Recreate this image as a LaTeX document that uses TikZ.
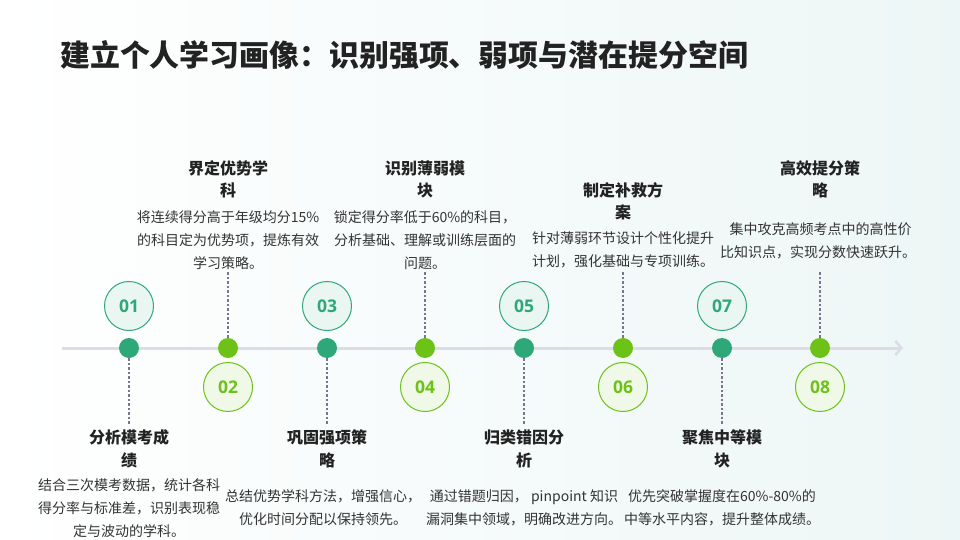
\documentclass[tikz,border=0pt]{standalone}
\usepackage{fontspec}
\setmainfont{Noto Sans CJK SC}
\newfontfamily\numfont{Open Sans}
\usetikzlibrary{arrows.meta,positioning}

\definecolor{darkgrn}{HTML}{2EA878}
\definecolor{litgrn}{HTML}{6CC216}
\definecolor{axisgray}{HTML}{DCDCE6}
\definecolor{linkgray}{HTML}{77768F}
\definecolor{headgray}{HTML}{222222}
\definecolor{descgray}{HTML}{333333}

\tikzset{
  ttl/.style={align=center, inner sep=0pt, text=headgray,
    font=\fontsize{16}{22.5}\selectfont\bfseries},
  desc/.style={align=center, inner sep=0pt, text=descgray,
    font=\fontsize{14}{22.8}\selectfont},
  oddnum/.style={circle, draw=darkgrn, fill=darkgrn!10, line width=1pt,
    minimum size=49pt, inner sep=0pt, text=darkgrn,
    font=\numfont\bfseries\fontsize{17.5}{17.5}\selectfont},
  evennum/.style={circle, draw=litgrn, fill=litgrn!10, line width=1pt,
    minimum size=49pt, inner sep=0pt, text=litgrn,
    font=\numfont\bfseries\fontsize{17.5}{17.5}\selectfont},
  odddot/.style={circle, fill=darkgrn, minimum size=20pt, inner sep=0pt},
  evendot/.style={circle, fill=litgrn, minimum size=20pt, inner sep=0pt},
  link/.style={linkgray, line width=1.5pt, dash pattern=on 2.5pt off 2pt}
}

\begin{document}
\begin{tikzpicture}[x=1pt,y=-1pt]
    % background
    \shade[left color=white, right color=teal!7] (0,0) rectangle (960,540);
    \useasboundingbox (0,0) rectangle (960,540);

    % heading
    \node[anchor=west, inner sep=0pt, text=headgray,
      font=\fontsize{29.9}{32}\selectfont\bfseries] (heading) at (60,55)
      {建立个人学习画像：识别强项、弱项与潜在提分空间};

    % time axis
    \coordinate (axstart) at (62,348);
    \coordinate (axend) at (903,348);
    \draw[axisgray, line width=3pt, -{Straight Barb[length=6pt,width=14pt,line width=2.5pt]}] (axstart) -- (axend);

    % link ends
    \coordinate (e1) at (129,424);
    \coordinate (e2) at (228,272);
    \coordinate (e3) at (327,424);
    \coordinate (e4) at (425,272);
    \coordinate (e5) at (524,424);
    \coordinate (e6) at (623,272);
    \coordinate (e7) at (722,424);
    \coordinate (e8) at (820,272);

    % dots on the axis
    \node[odddot]  (d1) at (129,348) {};
    \node[evendot] (d2) at (228,348) {};
    \node[odddot]  (d3) at (327,348) {};
    \node[evendot] (d4) at (425,348) {};
    \node[odddot]  (d5) at (524,348) {};
    \node[evendot] (d6) at (623,348) {};
    \node[odddot]  (d7) at (722,348) {};
    \node[evendot] (d8) at (820,348) {};

    % dashed links
    \draw[link] (d1.south) -- (e1);
    \draw[link] (d2.north) -- (e2);
    \draw[link] (d3.south) -- (e3);
    \draw[link] (d4.north) -- (e4);
    \draw[link] (d5.south) -- (e5);
    \draw[link] (d6.north) -- (e6);
    \draw[link] (d7.south) -- (e7);
    \draw[link] (d8.north) -- (e8);

    % step numbers
    \node[oddnum]  (c1) at (129,306) {01};
    \node[evennum] (c2) at (228,387) {02};
    \node[oddnum]  (c3) at (327,306) {03};
    \node[evennum] (c4) at (425,387) {04};
    \node[oddnum]  (c5) at (524,306) {05};
    \node[evennum] (c6) at (623,387) {06};
    \node[oddnum]  (c7) at (722,306) {07};
    \node[evennum] (c8) at (820,387) {08};

    % titles
    \node[ttl] (t1) at (129,449) {分析模考成\\绩};
    \node[ttl] (t2) at (228,179.5) {界定优势学\\科};
    \node[ttl] (t3) at (327,449) {巩固强项策\\略};
    \node[ttl] (t4) at (425,179.5) {识别薄弱模\\块};
    \node[ttl] (t5) at (524,449) {归类错因分\\析};
    \node[ttl] (t6) at (623,201.5) {制定补救方\\案};
    \node[ttl] (t7) at (722,449) {聚焦中等模\\块};
    \node[ttl] (t8) at (820,179.5) {高效提分策\\略};

    % descriptions
    \node[desc] (p1) at (129,508) {结合三次模考数据，统计各科\\得分率与标准差，识别表现稳\\定与波动的学科。};
    \node[desc] (p2) at (228,240) {将连续得分高于年级均分15\%\\的科目定为优势项，提炼有效\\学习策略。};
    \node[desc] (p3) at (323,507.5) {总结优势学科方法，增强信心，\\优化时间分配以保持领先。};
    \node[desc] (p4) at (425,240) {锁定得分率低于60\%的科目，\\分析基础、理解或训练层面的\\问题。};
    \node[desc] (p5) at (524,507.5) {通过错题归因， pinpoint 知识\\漏洞集中领域，明确改进方向。};
    \node[desc] (p6) at (623,250) {针对薄弱环节设计个性化提升\\计划，强化基础与专项训练。};
    \node[desc] (p7) at (722,507.5) {优先突破掌握度在60\%-80\%的\\中等水平内容，提升整体成绩。};
    \node[desc] (p8) at (818,240.5) {\hspace*{5pt}集中攻克高频考点中的高性价\\比知识点，实现分数快速跃升。};
\end{tikzpicture}
\end{document}
